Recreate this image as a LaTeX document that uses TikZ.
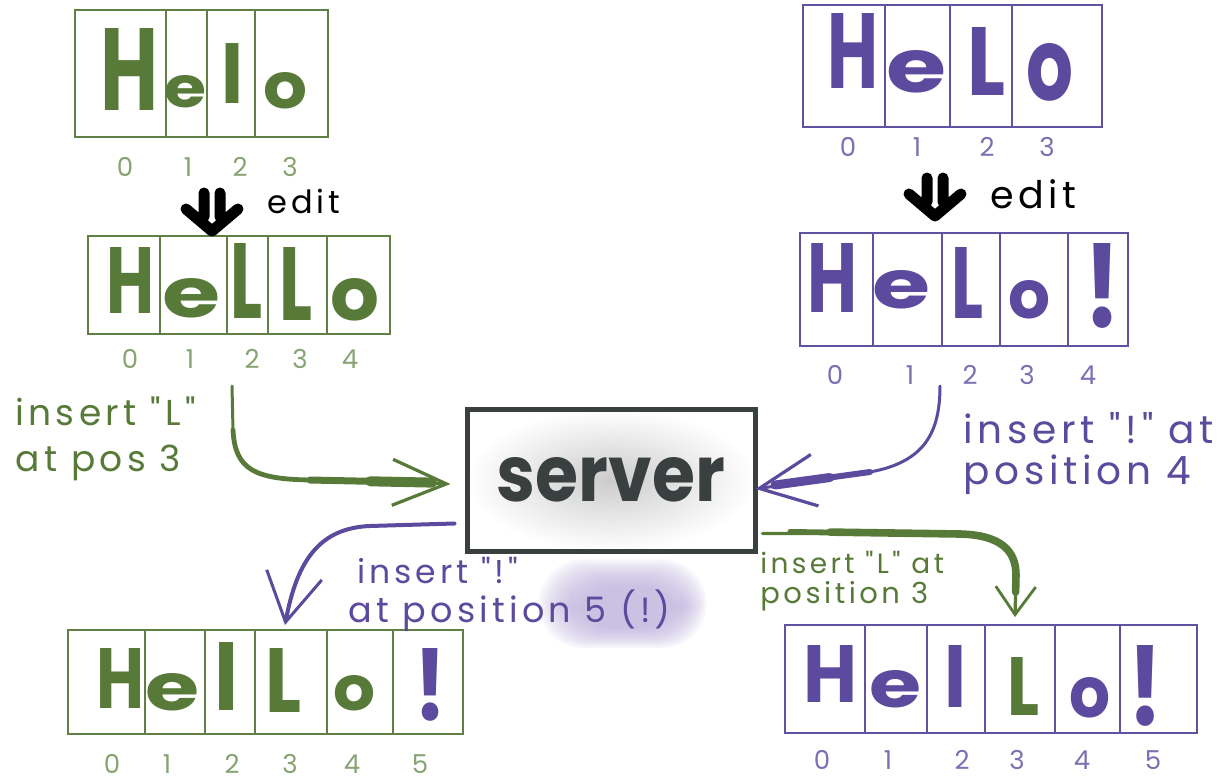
\documentclass[tikz,border=0pt]{standalone}
\usepackage{fontspec}
\setmainfont{Poppins}
\usepackage{graphicx}
\usetikzlibrary{arrows.meta}
\definecolor{gC}{HTML}{587A38}
\definecolor{gL}{HTML}{5F7F45}
\definecolor{gI}{HTML}{88A372}
\definecolor{pC}{HTML}{5B4A9E}
\definecolor{pL}{HTML}{6152A0}
\definecolor{pI}{HTML}{7C6FB4}
\definecolor{sv}{HTML}{3A3F3F}
\definecolor{hl}{HTML}{BFB2DE}
\newfontfamily\hand[LetterSpace=12]{Poppins}
\newcommand\glyph[3]{\resizebox{\dimexpr#1pt/2\relax}{\dimexpr#2pt/2\relax}{\bfseries#3}}
\begin{document}
\begin{tikzpicture}[x=0.5pt,y=-0.5pt,
  cell/.style={draw=#1, line width=1pt, inner sep=0pt, outer sep=0pt},
  letter/.style={inner sep=0pt, anchor=base},
  idx/.style={font=\fontsize{13}{13}\selectfont, inner sep=0pt, text=#1},
  lbl/.style={font=\hand\fontsize{#1}{#1}\selectfont, inner sep=0pt, anchor=base west},
  editarr/.style={line width=5.5pt, line cap=round, line join=round, black},
  conn/.style={line cap=round, line join=round}]
\fill[white] (0,0) rectangle (1228,782);
\useasboundingbox (0,0) rectangle (1228,782);
% highlight (soft blob)
\foreach \k in {0,...,11}
  \fill[hl, opacity=0.11, rounded corners=22pt] ({572-\k*3},{586-\k*2.4}) rectangle ({682+\k*2.2},{628+\k*1.8});

% ---- array A (top left, green)
\foreach \xa/\xb [count=\i] in {75/166,166/207,207/255,255/328}
  \node[cell=gL, minimum width={(\xb-\xa)*0.5pt}, minimum height=63.5pt] (A\i) at ({(\xa+\xb)/2},73.5) {};
\foreach \cx/\by/\ch/\col/\gw/\gh [count=\i] in {130/110/H/gC/58/82, 186/107/e/gC/42/32, 233/103/l/gC/22/60, 286/108/o/gC/44/36}
  \node[letter, text=\col] (Al\i) at (\cx,\by) {\glyph{\gw}{\gh}{\ch}};
\foreach \x [count=\i from 0] in {125,188,240,290}
  \node[idx=gI] (Ai\i) at (\x,167) {\i};

% ---- array B (second left, green)
\foreach \xa/\xb [count=\i] in {88/160,160/227,227/268,268/327,327/390}
  \node[cell=gL, minimum width={(\xb-\xa)*0.5pt}, minimum height=49pt] (B\i) at ({(\xa+\xb)/2},285) {};
\foreach \cx/\by/\ch/\col/\gw/\gh [count=\i] in {131/313/H/gC/48/66, 192/317/e/gC/58/39, 247/318/L/gC/32/75, 296/320/L/gC/33/73, 355/320/o/gC/49/42}
  \node[letter, text=\col] (Bl\i) at (\cx,\by) {\glyph{\gw}{\gh}{\ch}};
\foreach \x [count=\i from 0] in {130,190,252,300,350}
  \node[idx=gI] (Bi\i) at (\x,359) {\i};

% ---- array C (top right, purple)
\foreach \xa/\xb [count=\i] in {803/885,885/950,950/1012,1012/1102}
  \node[cell=pL, minimum width={(\xb-\xa)*0.5pt}, minimum height=61pt] (C\i) at ({(\xa+\xb)/2},66) {};
\foreach \cx/\by/\ch/\col/\gw/\gh [count=\i] in {853/88/H/pC/51/75, 917/92/e/pC/60/42, 986/95/L/pC/38/68, 1050/100/o/pC/47/57}
  \node[letter, text=\col] (Cl\i) at (\cx,\by) {\glyph{\gw}{\gh}{\ch}};
\foreach \x [count=\i from 0] in {848,917,987,1047}
  \node[idx=pI] (Ci\i) at (\x,147) {\i};

% ---- array D (second right, purple)
\foreach \xa/\xb [count=\i] in {800/873,873/942,942/1000,1000/1068,1068/1128}
  \node[cell=pL, minimum width={(\xb-\xa)*0.5pt}, minimum height=56.5pt] (D\i) at ({(\xa+\xb)/2},289.5) {};
\foreach \cx/\by/\ch/\col/\gw/\gh [count=\i] in {832/312/H/pC/50/69, 902/308/e/pC/58/38, 967/318/L/pC/32/71, 1029/318/o/pC/42/38, 1102/327/!/pC/36/84}
  \node[letter, text=\col] (Dl\i) at (\cx,\by) {\glyph{\gw}{\gh}{\ch}};
\foreach \x [count=\i from 0] in {835,910,970,1027,1088}
  \node[idx=pI] (Di\i) at (\x,375) {\i};

% ---- array E (bottom left, green)
\foreach \xa/\xb [count=\i] in {68/145,145/205,205/255,255/327,327/393,393/463}
  \node[cell=gL, minimum width={(\xb-\xa)*0.5pt}, minimum height=52pt] (E\i) at ({(\xa+\xb)/2},682) {};
\foreach \cx/\by/\ch/\col/\gw/\gh [count=\i] in {121/708/H/gC/48/60, 173/710/e/gC/54/37, 227/710/l/gC/24/68, 283/712/L/gC/36/64, 355/710/o/gC/42/35, 430/720/!/pC/32/72}
  \node[letter, text=\col] (El\i) at (\cx,\by) {\glyph{\gw}{\gh}{\ch}};
\foreach \x [count=\i from 0] in {112,167,232,290,352,420}
  \node[idx=gI] (Ei\i) at (\x,764) {\i};

% ---- array F (bottom right, purple)
\foreach \xa/\xb [count=\i] in {785/865,865/927,927/985,985/1055,1055/1120,1120/1197}
  \node[cell=pL, minimum width={(\xb-\xa)*0.5pt}, minimum height=54pt] (F\i) at ({(\xa+\xb)/2},679) {};
\foreach \cx/\by/\ch/\col/\gw/\gh [count=\i] in {830/702/H/pC/54/57, 896/707/e/pC/52/37, 955/707/l/pC/22/62, 1023/715/L/gC/32/58, 1090/717/o/pC/41/40, 1145/725/!/pC/34/80}
  \node[letter, text=\col] (Fl\i) at (\cx,\by) {\glyph{\gw}{\gh}{\ch}};
\foreach \x [count=\i from 0] in {822,888,962,1017,1082,1153}
  \node[idx=pI] (Fi\i) at (\x,760) {\i};

% ---- server
\node[draw=sv, line width=2.5pt, minimum width=144pt, minimum height=71pt,
      inner color=black!20, outer color=white, text=sv] (server) at (611,480)
      {\resizebox{114pt}{22pt}{\bfseries server}};

% ---- edit arrows
\coordinate (e1) at (212,193);
\coordinate (e2) at (935,178);
\foreach \e in {e1,e2}
  \draw[editarr] ([xshift=-4pt]\e) -- ++(0,24) ([xshift=4pt]\e) -- ++(0,24)
    ([xshift=-13pt,yshift=-8pt]\e) -- ([yshift=-19pt]\e) -- ([xshift=13pt,yshift=-8pt]\e);
\node[lbl=16, text=black] (edit1) at (267,213) {edit};
\node[lbl=19, text=black] (edit2) at (990,208) {edit};

% ---- labels
\node[lbl=18, text=gC] (gl1) at (15,425) {insert "L"};
\node[lbl=18, text=gC] (gl2) at (15,471) {at pos 3};
\node[lbl=19.5, text=pC] (pr1) at (963,443) {insert "!" at};
\node[lbl=19.5, text=pC] (pr2) at (963,484) {position 4};
\node[lbl=16.5, text=pC] (pb1) at (357,583) {insert "!"};
\node[lbl=17.5, text=pC] (pb2) at (348,622) {at position 5 (!)};
\node[lbl=14, text=gC] (gb1) at (760,573) {insert "L" at};
\node[lbl=14.5, text=gC] (gb2) at (760,603) {position 3};

% ---- connectors
\coordinate (gs) at (232,386);
\draw[conn, gC, line width=1.5pt, -{Straight Barb[length=27pt,width=23pt,line width=1.6pt]}]
  (gs) -- (233,430) .. controls (235,470) and (255,479) .. (310,480) -- ([shift={(-7pt,-2pt)}]server.west);
\draw[conn, gC, line width=2.4pt] (233,430) .. controls (235,470) and (255,479) .. (310,480);
\draw[conn, gC, line width=3.5pt] (310,480) -- (370,481.3);
\draw[conn, gC, line width=5pt] (370,481.3) -- (432,482.6);

\coordinate (ps) at (940,386);
\draw[conn, pC, line width=1.5pt, -{Straight Barb[length=28pt,width=26pt,line width=1.6pt]}]
  (ps) .. controls (940,432) and (925,462) .. (870,472) -- ([shift={(-1pt,-4.5pt)}]server.east);
\draw[conn, pC, line width=3pt] (870,472) -- (830,477.5);
\draw[conn, pC, line width=4.5pt] (830,477.5) -- (775,485);

\draw[conn, pC, line width=2pt, -{Straight Barb[length=24pt,width=28pt,line width=1.5pt]}]
  ([shift={(-5pt,15pt)}]server.south west) -- (370,526) .. controls (320,528) and (297,560) .. ([shift={(-3pt,2.5pt)}]E4.north);

\draw[conn, gC, line width=1.6pt, -{Straight Barb[length=14pt,width=20pt,line width=1.4pt]}]
  ([shift={(2.5pt,10pt)}]server.south east) -- (960,534) .. controls (1000,535) and (1016,550) .. (1016,575) -- ([shift={(-2.5pt,4pt)}]F4.north);
\draw[conn, gC, line width=2.5pt] (790,531.5) -- (830,532.1);
\draw[conn, gC, line width=3.8pt] (830,532.1) -- (960,534) .. controls (1000,535) and (1016,550) .. (1016,575) -- (1015.6,592);
\end{tikzpicture}
\end{document}
